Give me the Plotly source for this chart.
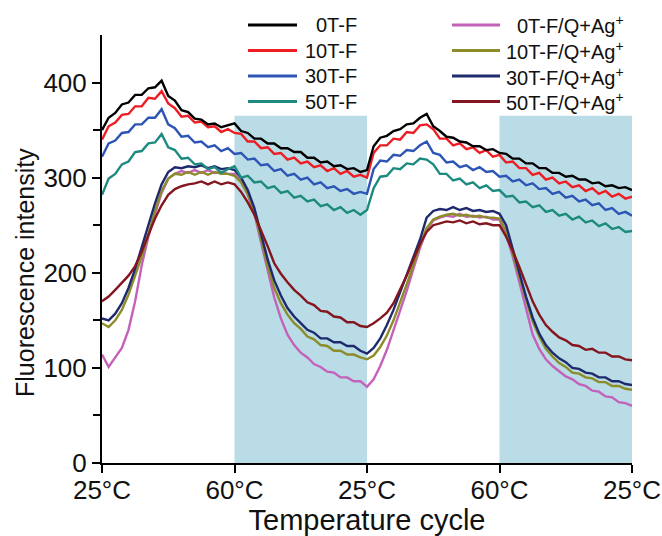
import numpy as np
import plotly.graph_objects as go

# sample positions along the temperature cycle (0 = 25°C, 1 = 60°C, 2 = 25°C, ...)
x = np.round(np.arange(0, 4.0001, 0.05), 2)

tick_pos = [0, 1, 2, 3, 4]
tick_labels = ["25°C", "60°C", "25°C", "60°C", "25°C"]
heat_start = [1, 3]
heat_end = [2, 4]
shade_top = 365

names = ["0T-F", "10T-F", "30T-F", "50T-F",
         "0T-F/Q+Ag<sup>+</sup>", "10T-F/Q+Ag<sup>+</sup>",
         "30T-F/Q+Ag<sup>+</sup>", "50T-F/Q+Ag<sup>+</sup>"]
colors = ["#000000", "#ee1d23", "#2c55b5", "#1d8a80",
          "#c462bb", "#8c8c28", "#1f2a6e", "#84161f"]

f0 = [350, 363, 368, 377, 379, 387, 387, 394, 395, 402,
      386, 381, 371, 369, 362, 361, 356, 357, 353, 355,
      357, 349, 347, 341, 341, 336, 336, 331, 331, 327,
      327, 321, 321, 316, 317, 312, 313, 309, 310, 306,
      308, 333, 342, 344, 349, 351, 356, 357, 363, 367,
      354, 349, 343, 342, 338, 337, 333, 333, 329, 330,
      326, 325, 320, 320, 315, 315, 310, 310, 305, 305,
      301, 302, 298, 298, 294, 295, 291, 292, 289, 290,
      287]
f10 = [340, 354, 358, 366, 367, 375, 375, 384, 383, 391,
       378, 373, 364, 365, 358, 359, 353, 354, 348, 351,
       347, 346, 338, 338, 331, 332, 325, 326, 319, 321,
       315, 317, 311, 313, 307, 310, 304, 307, 301, 303,
       300, 326, 334, 334, 341, 340, 348, 347, 355, 356,
       351, 341, 341, 334, 336, 330, 332, 326, 329, 322,
       324, 316, 317, 310, 310, 303, 305, 298, 300, 294,
       296, 290, 292, 286, 289, 283, 286, 280, 283, 278,
       280]
f30 = [322, 336, 339, 347, 348, 356, 356, 363, 363, 372,
       356, 352, 343, 344, 337, 338, 332, 334, 328, 331,
       325, 326, 319, 320, 313, 314, 307, 309, 302, 304,
       298, 300, 293, 295, 289, 291, 286, 288, 283, 285,
       283, 309, 318, 317, 324, 323, 329, 328, 334, 338,
       326, 324, 316, 317, 311, 313, 308, 311, 306, 307,
       301, 302, 296, 298, 292, 294, 288, 289, 283, 285,
       279, 281, 275, 277, 271, 273, 266, 268, 262, 264,
       260]
f50 = [282, 299, 304, 314, 317, 327, 328, 336, 337, 346,
       332, 329, 320, 321, 314, 315, 309, 311, 305, 309,
       312, 300, 302, 295, 296, 289, 291, 284, 286, 279,
       281, 275, 277, 270, 272, 266, 269, 263, 266, 261,
       266, 289, 301, 302, 310, 309, 315, 314, 320, 319,
       314, 304, 304, 297, 299, 293, 295, 289, 292, 286,
       287, 280, 281, 274, 275, 269, 271, 264, 266, 260,
       262, 256, 259, 253, 255, 249, 252, 246, 248, 243,
       244]
q0 = [114, 101, 111, 121, 140, 170, 208, 238, 262, 284,
      299, 304, 307, 305, 308, 305, 308, 305, 306, 304,
      304, 296, 282, 262, 232, 202, 174, 152, 135, 124,
      116, 111, 104, 101, 96, 95, 90, 90, 86, 86,
      80, 88, 102, 119, 139, 161, 181, 204, 226, 245,
      255, 258, 260, 259, 262, 259, 260, 258, 259, 256,
      256, 240, 217, 190, 162, 135, 120, 109, 102, 96,
      91, 88, 83, 81, 76, 75, 70, 69, 64, 63,
      60]
q10 = [147, 143, 150, 161, 177, 196, 217, 240, 265, 286,
       299, 304, 303, 306, 303, 306, 303, 306, 304, 304,
       302, 295, 283, 264, 235, 207, 184, 168, 156, 147,
       141, 133, 130, 124, 123, 118, 118, 114, 114, 111,
       109, 113, 122, 134, 150, 168, 188, 208, 229, 247,
       256, 259, 261, 262, 260, 261, 259, 260, 258, 258,
       257, 244, 221, 196, 172, 149, 133, 120, 112, 105,
       101, 95, 94, 90, 89, 85, 85, 81, 81, 78,
       77]
q30 = [152, 150, 157, 168, 184, 204, 227, 250, 273, 293,
       306, 311, 310, 312, 311, 313, 310, 312, 309, 310,
       308, 300, 287, 268, 241, 214, 192, 176, 163, 154,
       147, 140, 137, 131, 131, 127, 127, 123, 123, 118,
       115, 121, 131, 145, 161, 180, 199, 217, 235, 258,
       265, 267, 266, 269, 266, 268, 265, 266, 264, 265,
       262, 250, 225, 199, 175, 153, 136, 124, 116, 110,
       106, 100, 99, 95, 94, 90, 90, 86, 86, 83,
       82]
q50 = [170, 175, 182, 189, 197, 207, 222, 240, 257, 271,
       282, 288, 291, 293, 294, 296, 293, 296, 293, 295,
       293, 285, 274, 261, 245, 228, 210, 199, 190, 182,
       176, 169, 166, 160, 159, 154, 153, 148, 148, 144,
       143, 147, 152, 158, 168, 182, 197, 214, 230, 243,
       250, 252, 254, 253, 255, 252, 254, 251, 252, 250,
       250, 238, 223, 206, 189, 170, 156, 145, 138, 132,
       129, 124, 123, 119, 120, 116, 116, 112, 112, 109,
       108]

series = [f0, f10, f30, f50, q0, q10, q30, q50]
draw_order = [4, 5, 6, 7, 3, 2, 1, 0]

FONT = "Liberation Sans, Arial, Helvetica, sans-serif"
W, H = 662, 536

fig = go.Figure()
for i in draw_order:
    fig.add_trace(go.Scatter(
        x=x, y=series[i], mode="lines", name=names[i],
        line=dict(color=colors[i], width=2.4), showlegend=False))

# heating phases shading
for a, b in zip(heat_start, heat_end):
    fig.add_shape(type="rect", xref="x", yref="y", x0=a, x1=b, y0=0, y1=shade_top,
                  fillcolor="#b9dce6", line=dict(width=0), layer="below")

# plot area in window pixels
plot_l, plot_r, plot_t, plot_b = 102, 632, 35, 463
def px2paper(px, py):
    return (px - plot_l) / (plot_r - plot_l), (plot_b - py) / (plot_b - plot_t)

# legend (two columns, text right-aligned)
row_py = [25, 50.5, 76, 101.5]
cols = [(248, 297, 359), (452, 500, 626)]
for i, name in enumerate(names):
    c, r = divmod(i, 4)
    lx0, lx1, tx = cols[c]
    x0, y = px2paper(lx0, row_py[r])
    x1, _ = px2paper(lx1, row_py[r])
    xt, _ = px2paper(tx, row_py[r])
    fig.add_shape(type="line", xref="paper", yref="paper", x0=x0, x1=x1, y0=y, y1=y,
                  line=dict(color=colors[i], width=3))
    fig.add_annotation(xref="paper", yref="paper", x=xt, y=y, text=name,
                       showarrow=False, xanchor="right", yanchor="middle",
                       font=dict(family=FONT, size=20, color="#111"))

# y title
yx, yy = px2paper(25, 273)
fig.add_annotation(xref="paper", yref="paper", x=yx, y=yy, text="Fluorescence intensity",
                   textangle=-90, showarrow=False, xanchor="center", yanchor="middle",
                   font=dict(family=FONT, size=25, color="#111"))

fig.update_layout(
    width=W, height=H,
    margin=dict(l=plot_l, r=W - plot_r, t=plot_t, b=H - plot_b),
    paper_bgcolor="white", plot_bgcolor="white",
    font=dict(family=FONT, color="#111"),
    showlegend=False,
    xaxis=dict(range=[0, 4], tickvals=tick_pos, ticktext=tick_labels,
               showline=True, linecolor="black", linewidth=2, mirror=False,
               ticks="outside", ticklen=8, tickwidth=2, tickcolor="black",
               ticklabelstandoff=-5, ticklabeloverflow="allow",
               showgrid=False, zeroline=False, automargin=False,
               tickfont=dict(family=FONT, size=26, color="#111"),
               title=dict(text="Temperature cycle", standoff=0,
                          font=dict(family=FONT, size=29, color="#111"))),
    yaxis=dict(range=[0, 450], tickvals=[0, 100, 200, 300, 400],
               showline=True, linecolor="black", linewidth=2,
               ticks="outside", ticklen=8, tickwidth=2, tickcolor="black",
               minor=dict(tickvals=[50, 150, 250, 350], ticks="outside",
                          ticklen=7, tickwidth=2, tickcolor="black", showgrid=False),
               showgrid=False, zeroline=False, automargin=False,
               tickfont=dict(family=FONT, size=26, color="#111")),
)

# remove the default 8px page margin so the 662x536 figure fills the window exactly
fig.write_html("out.html", config={"displayModeBar": False},
               post_script="document.body.style.margin='0';document.body.style.overflow='hidden';")
